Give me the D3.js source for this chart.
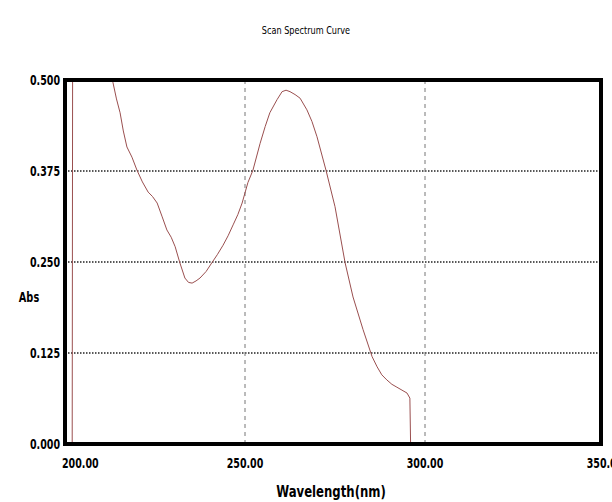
<!DOCTYPE html>
<html>
<head>
<meta charset="utf-8">
<script src="https://cdn.jsdelivr.net/npm/d3@7"></script>
<style>
  body { margin: 0; background: #fff; }
  text { font-family: "DejaVu Sans", sans-serif; }
</style>
</head>
<body>
<div id="chart-area"></div>
<script>
// scan data (nm, Abs)
var wavelength = [202.0, 202.2, 208.0, 213.3, 214.3, 215.3, 216.2, 217.2, 218.6, 220.0, 221.5, 223.1, 224.3, 225.6, 227.0, 228.3,
    229.5, 230.6, 231.9, 233.3, 234.3, 235.3, 236.4, 237.5, 239.2, 240.8, 242.3, 243.9, 245.3, 246.7, 248.0, 249.2, 250.8,
    252.2, 254.2, 255.6, 256.9, 258.9, 260.3, 261.4, 262.5, 263.9, 265.3, 267.2, 268.6, 270.0, 272.5, 275.0, 277.8,
    280.0, 282.8, 285.3, 286.7, 288.0, 289.4, 290.8, 292.2, 293.6, 295.0, 295.8, 296.0]
var absorbance = [0.000, 0.900, 0.640, 0.497, 0.474, 0.455, 0.430, 0.408, 0.394, 0.376, 0.360, 0.346, 0.340, 0.331, 0.312, 0.294,
    0.284, 0.271, 0.249, 0.228, 0.222, 0.221, 0.224, 0.228, 0.237, 0.249, 0.260, 0.273, 0.286, 0.301, 0.315, 0.331, 0.359,
    0.376, 0.413, 0.436, 0.455, 0.473, 0.484, 0.486, 0.484, 0.480, 0.475, 0.459, 0.443, 0.422, 0.376, 0.326, 0.249,
    0.202, 0.157, 0.120, 0.106, 0.095, 0.088, 0.082, 0.078, 0.074, 0.070, 0.063, 0.000]
var xTicks = [200, 250, 300, 350]
var yTicks = [0, 0.125, 0.25, 0.375, 0.5]
var xGrid = [250, 300]
var yGrid = [0.125, 0.25, 0.375]

var data = wavelength.map((w, i) => { return { w: w, a: absorbance[i] } })

var margin = { left:65, right:11, top:80, bottom:58 }
var width = 612 - margin.left - margin.right,
    height = 502 - margin.top - margin.bottom

var svg = d3.select("#chart-area")
    .append("svg")
    .attr("width", 612)
    .attr("height", 502)

// narrow text: the original uses a condensed face
function label(parent, px, py, str, size, bold, anchor, sx) {
    return parent.append("text")
        .attr("transform", "translate(" + px + "," + py + ") scale(" + sx + ",1)")
        .attr("font-size", size + "px")
        .attr("font-weight", bold ? "bold" : "normal")
        .attr("text-anchor", anchor)
        .attr("dy", "0.35em")
        .text(str)
}

label(svg, 306, 30, "Scan Spectrum Curve", 11, false, "middle", 0.74)

var g = svg.append("g")
    .attr("transform", "translate(" + margin.left + ", " + margin.top + ")")

var x = d3.scaleLinear()
    .domain([200, 350])
    .range([0, 540])
var y = d3.scaleLinear()
    .domain([0, 0.5])
    .range([height, 0])

g.append("clipPath")
    .attr("id", "clip")
    .append("rect")
    .attr("width", width)
    .attr("height", height)

// grid
g.selectAll(".hgrid")
    .data(yGrid)
    .enter().append("line")
    .attr("class", "hgrid")
    .attr("x1", 0).attr("x2", width)
    .attr("y1", d => y(d)).attr("y2", d => y(d))
    .attr("stroke", "#222")
    .attr("stroke-width", 1.5)
    .attr("stroke-dasharray", "1.5,1.5")
g.selectAll(".vgrid")
    .data(xGrid)
    .enter().append("line")
    .attr("class", "vgrid")
    .attr("y1", 0).attr("y2", height)
    .attr("x1", d => x(d)).attr("x2", d => x(d))
    .attr("stroke", "#777")
    .attr("stroke-dasharray", "4,4")

var line = d3.line()
    .x(d => x(d.w))
    .y(d => y(d.a))

g.append("path")
    .datum(data)
    .attr("clip-path", "url(#clip)")
    .attr("fill", "none")
    .attr("stroke", "#9a4f4f")
    .attr("stroke-width", 1)
    .attr("d", line)

// frame
g.append("rect")
    .attr("width", width)
    .attr("height", height)
    .attr("fill", "none")
    .attr("stroke", "#000")
    .attr("stroke-width", 4)

// tick labels
yTicks.forEach(d => {
    label(g, -5, y(d), d3.format(".3f")(d), 14, true, "end", 0.68)
})
xTicks.forEach((d, i) => {
    label(g, i == 0 ? -3 : x(d), height + 19, d3.format(".2f")(d), 14, true, i == 0 ? "start" : "middle", 0.68)
})

label(svg, 29, 297, "Abs", 14, true, "middle", 0.7)
label(svg, 331, 492, "Wavelength(nm)", 15, true, "middle", 0.78)
</script>
</body>
</html>
